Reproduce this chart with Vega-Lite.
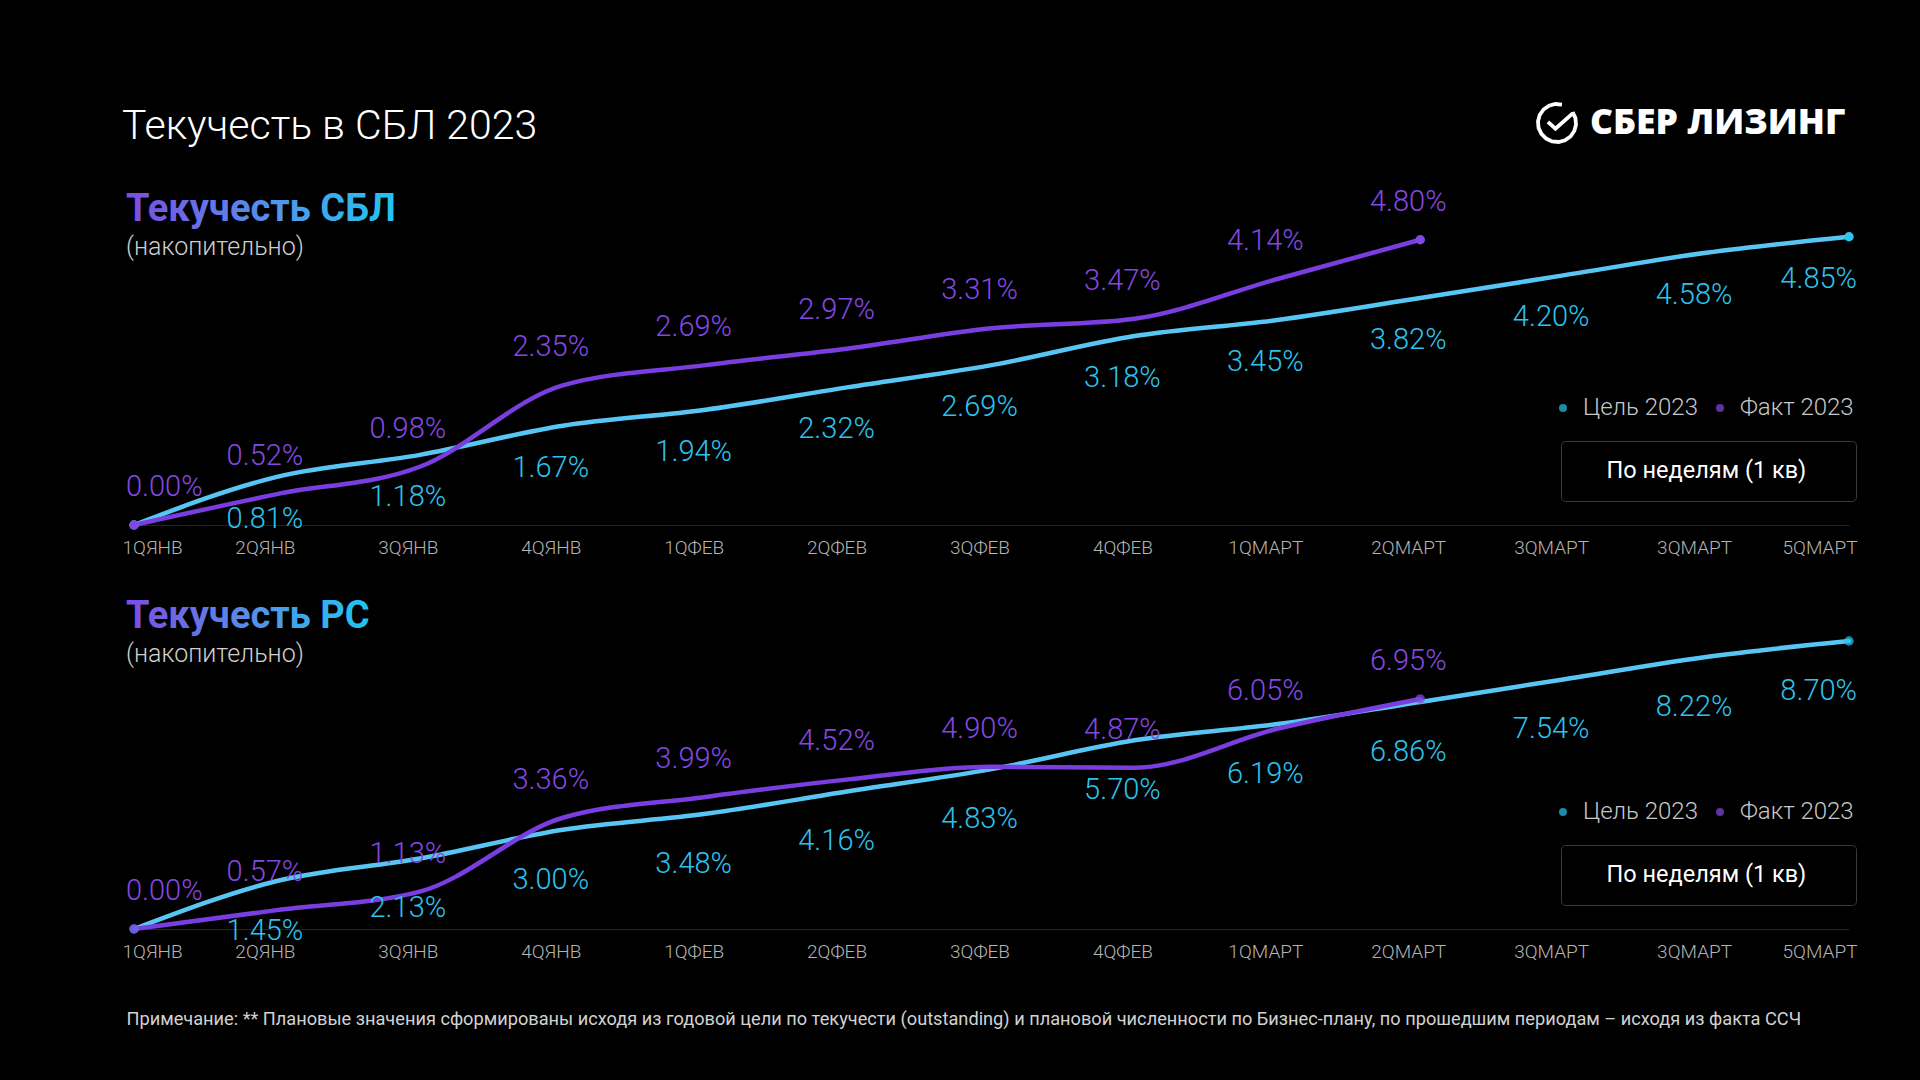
{
  "$schema": "https://vega.github.io/schema/vega-lite/v6.json",
  "background": "#000000",
  "padding": {"left": 122, "top": 102, "right": 64, "bottom": 52},
  "datasets": {
    "sbl": [
      {"week": "1QЯНВ", "series": "Цель 2023", "value": 0},
      {"week": "2QЯНВ", "series": "Цель 2023", "value": 0.0081},
      {"week": "3QЯНВ", "series": "Цель 2023", "value": 0.0118},
      {"week": "4QЯНВ", "series": "Цель 2023", "value": 0.0167},
      {"week": "1QФЕВ", "series": "Цель 2023", "value": 0.0194},
      {"week": "2QФЕВ", "series": "Цель 2023", "value": 0.0232},
      {"week": "3QФЕВ", "series": "Цель 2023", "value": 0.0269},
      {"week": "4QФЕВ", "series": "Цель 2023", "value": 0.0318},
      {"week": "1QМАРТ", "series": "Цель 2023", "value": 0.0345},
      {"week": "2QМАРТ", "series": "Цель 2023", "value": 0.0382},
      {"week": "3QМАРТ", "series": "Цель 2023", "value": 0.042},
      {"week": "3QМАРТ\u200b", "series": "Цель 2023", "value": 0.0458},
      {"week": "5QМАРТ", "series": "Цель 2023", "value": 0.0485},
      {"week": "1QЯНВ", "series": "Факт 2023", "value": 0},
      {"week": "2QЯНВ", "series": "Факт 2023", "value": 0.0052},
      {"week": "3QЯНВ", "series": "Факт 2023", "value": 0.0098},
      {"week": "4QЯНВ", "series": "Факт 2023", "value": 0.0235},
      {"week": "1QФЕВ", "series": "Факт 2023", "value": 0.0269},
      {"week": "2QФЕВ", "series": "Факт 2023", "value": 0.0297},
      {"week": "3QФЕВ", "series": "Факт 2023", "value": 0.0331},
      {"week": "4QФЕВ", "series": "Факт 2023", "value": 0.0347},
      {"week": "1QМАРТ", "series": "Факт 2023", "value": 0.0414},
      {"week": "2QМАРТ", "series": "Факт 2023", "value": 0.048}
    ],
    "rs": [
      {"week": "1QЯНВ", "series": "Цель 2023", "value": 0},
      {"week": "2QЯНВ", "series": "Цель 2023", "value": 0.0145},
      {"week": "3QЯНВ", "series": "Цель 2023", "value": 0.0213},
      {"week": "4QЯНВ", "series": "Цель 2023", "value": 0.03},
      {"week": "1QФЕВ", "series": "Цель 2023", "value": 0.0348},
      {"week": "2QФЕВ", "series": "Цель 2023", "value": 0.0416},
      {"week": "3QФЕВ", "series": "Цель 2023", "value": 0.0483},
      {"week": "4QФЕВ", "series": "Цель 2023", "value": 0.057},
      {"week": "1QМАРТ", "series": "Цель 2023", "value": 0.0619},
      {"week": "2QМАРТ", "series": "Цель 2023", "value": 0.0686},
      {"week": "3QМАРТ", "series": "Цель 2023", "value": 0.0754},
      {"week": "3QМАРТ\u200b", "series": "Цель 2023", "value": 0.0822},
      {"week": "5QМАРТ", "series": "Цель 2023", "value": 0.087},
      {"week": "1QЯНВ", "series": "Факт 2023", "value": 0},
      {"week": "2QЯНВ", "series": "Факт 2023", "value": 0.0057},
      {"week": "3QЯНВ", "series": "Факт 2023", "value": 0.0113},
      {"week": "4QЯНВ", "series": "Факт 2023", "value": 0.0336},
      {"week": "1QФЕВ", "series": "Факт 2023", "value": 0.0399},
      {"week": "2QФЕВ", "series": "Факт 2023", "value": 0.0452},
      {"week": "3QФЕВ", "series": "Факт 2023", "value": 0.049},
      {"week": "4QФЕВ", "series": "Факт 2023", "value": 0.0487},
      {"week": "1QМАРТ", "series": "Факт 2023", "value": 0.0605},
      {"week": "2QМАРТ", "series": "Факт 2023", "value": 0.0695}
    ]
  },
  "title": {
    "text": "Текучесть в СБЛ 2023",
    "anchor": "start",
    "font": "Roboto",
    "fontSize": 41,
    "fontWeight": 300,
    "color": "#ffffff",
    "offset": -46
  },
  "spacing": 38,
  "resolve": {
    "scale": {"fill": "independent", "stroke": "independent", "shape": "independent", "opacity": "independent"},
    "legend": {"fill": "independent", "stroke": "independent", "shape": "independent", "opacity": "independent"}
  },
  "vconcat": [
    {
      "width": 1715,
      "height": 334,
      "title": {
        "text": "Текучесть СБЛ",
        "subtitle": "(накопительно)",
        "anchor": "start",
        "frame": "group",
        "offset": -158,
        "dx": -8,
        "font": "Roboto",
        "fontSize": 38,
        "fontWeight": 700,
        "color": {"value": {"gradient": "linear", "x1": 0, "y1": 0, "x2": 1, "y2": 0, "stops": [{"offset": 0, "color": "#7d4ce2"}, {"offset": 0.55, "color": "#5394e8"}, {"offset": 1, "color": "#1fc6f1"}]}},
        "subtitleFont": "Roboto",
        "subtitleFontSize": 25,
        "subtitleFontWeight": 300,
        "subtitleColor": "#cfcfcf",
        "subtitlePadding": 6
      },
      "data": {"name": "sbl"},
      "encoding": {
        "x": {
          "field": "week",
          "type": "ordinal",
          "scale": {"type": "point", "padding": 0, "domain": ["1QЯНВ", "2QЯНВ", "3QЯНВ", "4QЯНВ", "1QФЕВ", "2QФЕВ", "3QФЕВ", "4QФЕВ", "1QМАРТ", "2QМАРТ", "3QМАРТ", "3QМАРТ\u200b", "5QМАРТ"]},
          "axis": {
            "title": null,
            "labelAngle": 0,
            "labelAlign": {"condition": [{"test": "datum.value === '1QЯНВ'", "value": "left"}, {"test": "datum.value === '5QМАРТ'", "value": "right"}], "value": "center"},
            "labelOffset": {"condition": {"test": "datum.value === '5QМАРТ'", "value": 8}, "value": -12}
          }
        }
      },
      "layer": [
        {
          "mark": {"type": "line", "interpolate": "monotone", "strokeWidth": 4.5, "strokeCap": "round", "strokeJoin": "round"},
          "encoding": {
            "y": {"field": "value", "type": "quantitative", "scale": {"domain": [0, 0.0562], "nice": false}, "axis": null},
            "stroke": {
              "field": "series", "type": "nominal",
              "scale": {"domain": ["Цель 2023", "Факт 2023"], "range": ["#58c6f4", "#7a3de0"]},
              "legend": {
                "orient": "none", "legendX": 1417, "legendY": 205, "direction": "horizontal", "title": null,
                "symbolType": "circle", "symbolSize": 64, "symbolStrokeWidth": 0,
                "labelFont": "Roboto", "labelFontSize": 24, "labelFontWeight": 300, "labelColor": "#c8c8c8",
                "labelOffset": 8, "columnPadding": 10, "padding": 0
              }
            }
          }
        },
        {
          "transform": [
            {"window": [{"op": "row_number", "as": "rn"}], "groupby": ["series"]},
            {"joinaggregate": [{"op": "count", "as": "n"}], "groupby": ["series"]},
            {"filter": "datum.rn == 1 || datum.rn == datum.n"}
          ],
          "mark": {"type": "point", "filled": true, "size": 90, "strokeWidth": 0},
          "encoding": {
            "y": {"field": "value", "type": "quantitative"},
            "fill": {
              "field": "series", "type": "nominal",
              "scale": {"domain": ["Цель 2023", "Факт 2023"], "range": ["#2bc3ef", "#8448e2"]},
              "legend": {
                "orient": "none", "legendX": 1417, "legendY": 205, "direction": "horizontal", "title": null,
                "symbolType": "circle", "symbolSize": 64, "symbolStrokeWidth": 0,
                "labelFont": "Roboto", "labelFontSize": 24, "labelFontWeight": 300, "labelColor": "#c8c8c8",
                "labelOffset": 8, "columnPadding": 10, "padding": 0
              }
            },
            "shape": {
              "datum": "По неделям (1 кв)", "type": "nominal",
              "scale": {"range": ["circle"]},
              "legend": {
                "orient": "none", "legendX": 1427, "legendY": 250,
                "title": " ", "titleOrient": "right", "titlePadding": 32, "titleFontSize": 24,
                "symbolSize": 16, "symbolOpacity": 0,
                "labelFont": "Roboto", "labelFontSize": 23.5, "labelFontWeight": 400, "labelColor": "#ffffff", "labelOffset": 4, "labelLimit": 400,
                "padding": 18, "strokeColor": "#3a3a3a", "fillColor": "#000000", "cornerRadius": 4
              }
            },
            "opacity": {
              "datum": "СБЕР ЛИЗИНГ", "type": "nominal",
              "scale": {"range": [1, 1]},
              "legend": {
                "orient": "none", "legendX": 1402, "legendY": -89, "title": null, "padding": 0,
                "symbolType": "M0.82,-0.57L0.97,-0.26L1,0.09L0.91,0.42L0.71,0.71L0.42,0.91L0.09,1L-0.26,0.97L-0.57,0.82L-0.82,0.57L-0.97,0.26L-1,-0.09L-0.91,-0.42L-0.71,-0.71L-0.42,-0.91L-0.09,-1L0.26,-0.97M-0.48,-0.06L-0.08,0.3L0.84,-0.52",
                "symbolSize": 1444, "symbolStrokeColor": "#ffffff", "symbolFillColor": "transparent", "symbolStrokeWidth": 3.8,
                "labelFont": "Open Sans", "labelFontSize": 35.5, "labelFontWeight": 800, "labelColor": "#ffffff", "labelOffset": 12, "labelLimit": 400,
                "encode": {"symbols": {"update": {"fill": {"value": "transparent"}, "stroke": {"value": "#ffffff"}, "strokeWidth": {"value": 3.8}}}}
              }
            }
          }
        },
        {
          "transform": [{"filter": "datum.series == 'Факт 2023' && datum.week != '1QЯНВ'"}],
          "mark": {"type": "text", "dy": -38, "dx": -12, "font": "Roboto", "fontSize": 29, "fontWeight": 300, "align": "center"},
          "encoding": {
            "y": {"field": "value", "type": "quantitative"},
            "text": {"field": "value", "type": "quantitative", "format": ".2%"},
            "fill": {"field": "series", "type": "nominal"}
          }
        },
        {
          "transform": [{"filter": "datum.series == 'Факт 2023' && datum.week == '1QЯНВ'"}],
          "mark": {"type": "text", "dy": -38, "dx": -8, "font": "Roboto", "fontSize": 29, "fontWeight": 300, "align": "left"},
          "encoding": {
            "y": {"field": "value", "type": "quantitative"},
            "text": {"field": "value", "type": "quantitative", "format": ".2%"},
            "fill": {"field": "series", "type": "nominal"}
          }
        },
        {
          "transform": [{"filter": "datum.series == 'Цель 2023' && datum.value > 0 && datum.week != '5QМАРТ'"}],
          "mark": {"type": "text", "dy": 42, "dx": -12, "font": "Roboto", "fontSize": 29, "fontWeight": 300, "align": "center"},
          "encoding": {
            "y": {"field": "value", "type": "quantitative"},
            "text": {"field": "value", "type": "quantitative", "format": ".2%"},
            "fill": {"field": "series", "type": "nominal"}
          }
        },
        {
          "transform": [{"filter": "datum.series == 'Цель 2023' && datum.week == '5QМАРТ'"}],
          "mark": {"type": "text", "dy": 42, "dx": 8, "font": "Roboto", "fontSize": 29, "fontWeight": 300, "align": "right"},
          "encoding": {
            "y": {"field": "value", "type": "quantitative"},
            "text": {"field": "value", "type": "quantitative", "format": ".2%"},
            "fill": {"field": "series", "type": "nominal"}
          }
        }
      ]
    },
    {
      "width": 1715,
      "height": 334,
      "title": {
        "text": "Текучесть РС",
        "subtitle": "(накопительно)",
        "anchor": "start",
        "frame": "group",
        "offset": -72,
        "dx": -8,
        "font": "Roboto",
        "fontSize": 38,
        "fontWeight": 700,
        "color": {"value": {"gradient": "linear", "x1": 0, "y1": 0, "x2": 1, "y2": 0, "stops": [{"offset": 0, "color": "#7d4ce2"}, {"offset": 0.55, "color": "#5394e8"}, {"offset": 1, "color": "#1fc6f1"}]}},
        "subtitleFont": "Roboto",
        "subtitleFontSize": 25,
        "subtitleFontWeight": 300,
        "subtitleColor": "#cfcfcf",
        "subtitlePadding": 6
      },
      "data": {"name": "rs"},
      "encoding": {
        "x": {
          "field": "week",
          "type": "ordinal",
          "scale": {"type": "point", "padding": 0, "domain": ["1QЯНВ", "2QЯНВ", "3QЯНВ", "4QЯНВ", "1QФЕВ", "2QФЕВ", "3QФЕВ", "4QФЕВ", "1QМАРТ", "2QМАРТ", "3QМАРТ", "3QМАРТ\u200b", "5QМАРТ"]},
          "axis": {
            "title": "Примечание: ** Плановые значения сформированы исходя из годовой цели по текучести (outstanding) и плановой численности по Бизнес-плану, по прошедшим периодам – исходя из факта ССЧ",
            "titleX": -8,
            "titleY": 95,
            "titleAlign": "left",
            "titleBaseline": "alphabetic",
            "titleFont": "Roboto",
            "titleFontSize": 18.2,
            "titleFontWeight": 400,
            "titleColor": "#d2d2d2",
            "titleLimit": 1900,
            "labelAngle": 0,
            "labelAlign": {"condition": [{"test": "datum.value === '1QЯНВ'", "value": "left"}, {"test": "datum.value === '5QМАРТ'", "value": "right"}], "value": "center"},
            "labelOffset": {"condition": {"test": "datum.value === '5QМАРТ'", "value": 8}, "value": -12}
          }
        }
      },
      "layer": [
        {
          "mark": {"type": "line", "interpolate": "monotone", "strokeWidth": 4.5, "strokeCap": "round", "strokeJoin": "round"},
          "encoding": {
            "y": {"field": "value", "type": "quantitative", "scale": {"domain": [0, 0.1009], "nice": false}, "axis": null},
            "stroke": {
              "field": "series", "type": "nominal",
              "scale": {"domain": ["Цель 2023", "Факт 2023"], "range": ["#58c6f4", "#7a3de0"]},
              "legend": {
                "orient": "none", "legendX": 1417, "legendY": 205, "direction": "horizontal", "title": null,
                "symbolType": "circle", "symbolSize": 64, "symbolStrokeWidth": 0,
                "labelFont": "Roboto", "labelFontSize": 24, "labelFontWeight": 300, "labelColor": "#c8c8c8",
                "labelOffset": 8, "columnPadding": 10, "padding": 0
              }
            }
          }
        },
        {
          "transform": [
            {"window": [{"op": "row_number", "as": "rn"}], "groupby": ["series"]},
            {"joinaggregate": [{"op": "count", "as": "n"}], "groupby": ["series"]},
            {"filter": "datum.rn == 1 || datum.rn == datum.n"}
          ],
          "mark": {"type": "point", "filled": true, "size": 90, "strokeWidth": 0},
          "encoding": {
            "y": {"field": "value", "type": "quantitative"},
            "fill": {
              "field": "series", "type": "nominal",
              "scale": {"domain": ["Цель 2023", "Факт 2023"], "range": ["#2bc3ef", "#8448e2"]},
              "legend": {
                "orient": "none", "legendX": 1417, "legendY": 205, "direction": "horizontal", "title": null,
                "symbolType": "circle", "symbolSize": 64, "symbolStrokeWidth": 0,
                "labelFont": "Roboto", "labelFontSize": 24, "labelFontWeight": 300, "labelColor": "#c8c8c8",
                "labelOffset": 8, "columnPadding": 10, "padding": 0
              }
            },
            "shape": {
              "datum": "По неделям (1 кв)", "type": "nominal",
              "scale": {"range": ["circle"]},
              "legend": {
                "orient": "none", "legendX": 1427, "legendY": 250,
                "title": " ", "titleOrient": "right", "titlePadding": 32, "titleFontSize": 24,
                "symbolSize": 16, "symbolOpacity": 0,
                "labelFont": "Roboto", "labelFontSize": 23.5, "labelFontWeight": 400, "labelColor": "#ffffff", "labelOffset": 4, "labelLimit": 400,
                "padding": 18, "strokeColor": "#3a3a3a", "fillColor": "#000000", "cornerRadius": 4
              }
            }
          }
        },
        {
          "transform": [{"filter": "datum.series == 'Факт 2023' && datum.week != '1QЯНВ'"}],
          "mark": {"type": "text", "dy": -38, "dx": -12, "font": "Roboto", "fontSize": 29, "fontWeight": 300, "align": "center"},
          "encoding": {
            "y": {"field": "value", "type": "quantitative"},
            "text": {"field": "value", "type": "quantitative", "format": ".2%"},
            "fill": {"field": "series", "type": "nominal"}
          }
        },
        {
          "transform": [{"filter": "datum.series == 'Факт 2023' && datum.week == '1QЯНВ'"}],
          "mark": {"type": "text", "dy": -38, "dx": -8, "font": "Roboto", "fontSize": 29, "fontWeight": 300, "align": "left"},
          "encoding": {
            "y": {"field": "value", "type": "quantitative"},
            "text": {"field": "value", "type": "quantitative", "format": ".2%"},
            "fill": {"field": "series", "type": "nominal"}
          }
        },
        {
          "transform": [{"filter": "datum.series == 'Цель 2023' && datum.value > 0 && datum.week != '5QМАРТ'"}],
          "mark": {"type": "text", "dy": 50, "dx": -12, "font": "Roboto", "fontSize": 29, "fontWeight": 300, "align": "center"},
          "encoding": {
            "y": {"field": "value", "type": "quantitative"},
            "text": {"field": "value", "type": "quantitative", "format": ".2%"},
            "fill": {"field": "series", "type": "nominal"}
          }
        },
        {
          "transform": [{"filter": "datum.series == 'Цель 2023' && datum.week == '5QМАРТ'"}],
          "mark": {"type": "text", "dy": 50, "dx": 8, "font": "Roboto", "fontSize": 29, "fontWeight": 300, "align": "right"},
          "encoding": {
            "y": {"field": "value", "type": "quantitative"},
            "text": {"field": "value", "type": "quantitative", "format": ".2%"},
            "fill": {"field": "series", "type": "nominal"}
          }
        }
      ]
    }
  ],
  "config": {
    "view": {"stroke": null},
    "font": "Roboto",
    "axis": {
      "domainColor": "#1b2336",
      "domainWidth": 1,
      "ticks": false,
      "grid": false,
      "labelColor": "#b4b4b4",
      "labelFont": "Roboto",
      "labelFontSize": 19,
      "labelFontWeight": 300,
      "labelPadding": 13,
      "labelOverlap": false
    }
  }
}
